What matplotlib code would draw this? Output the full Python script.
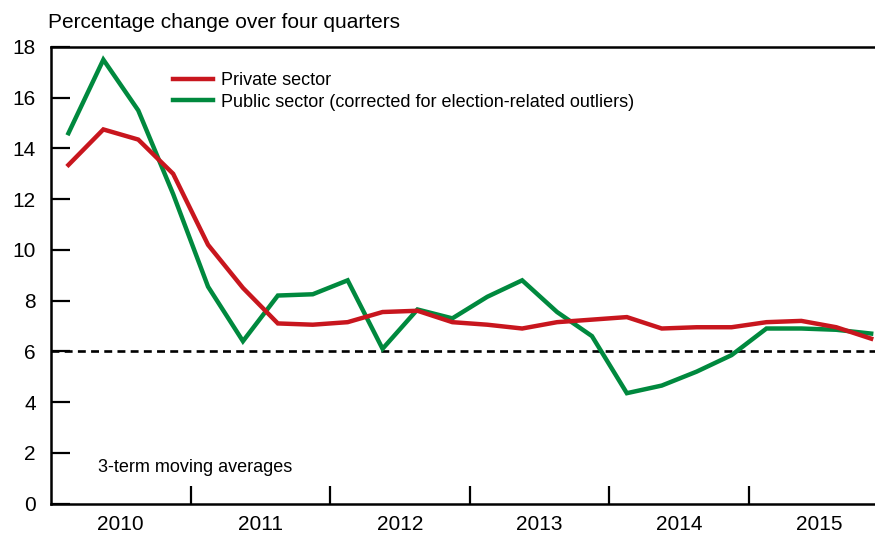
import numpy as np
import matplotlib
matplotlib.use('Agg')
import matplotlib.pyplot as plt

# quarterly data, 2010Q1 - 2015Q4 (3-term moving averages)
years = ["2010", "2011", "2012", "2013", "2014", "2015"]
private = [13.35, 14.75, 14.35, 13.0, 10.2, 8.5, 7.1, 7.05, 7.15, 7.55, 7.6, 7.15,
           7.05, 6.9, 7.15, 7.25, 7.35, 6.9, 6.95, 6.95, 7.15, 7.2, 6.95, 6.5]
public = [14.6, 17.5, 15.5, 12.2, 8.55, 6.4, 8.2, 8.25, 8.8, 6.1, 7.65, 7.3,
          8.15, 8.8, 7.55, 6.6, 4.35, 4.65, 5.2, 5.85, 6.9, 6.9, 6.85, 6.7]
ref_level = 6

RED = '#c8161e'
GREEN = '#00893e'

plt.rcParams.update({
    'font.family': ['Liberation Sans', 'DejaVu Sans'],
    'font.size': 15,
})

fig = plt.figure(figsize=(8.75, 5.36), dpi=100)
ax = fig.add_axes([51 / 875, 32.5 / 536, 824 / 875, 456.5 / 536])

x = np.arange(len(private)) + 0.5
ax.axhline(ref_level, color='black', lw=1.9, ls=(0, (3.0, 2.0)), zorder=1)
ax.plot(x, public, color=GREEN, lw=3.2, solid_joinstyle='miter',
        label='Public sector (corrected for election-related outliers)', zorder=2)
ax.plot(x, private, color=RED, lw=3.2, solid_joinstyle='miter',
        label='Private sector', zorder=3)

ax.set_xlim(0, 23.61)
ax.set_ylim(0, 18)
ax.set_yticks(np.arange(0, 19, 2))

# year boundaries as major ticks, labels centred on minor ticks
ax.set_xticks(np.arange(4, 24, 4))
ax.set_xticklabels([])
ax.set_xticks(np.arange(len(years)) * 4 + 2, minor=True)
ax.set_xticklabels(years, minor=True)
ax.tick_params(axis='x', which='major', direction='in', length=13, width=1.6)
ax.tick_params(axis='x', which='minor', length=0, pad=8)
ax.tick_params(axis='y', direction='in', length=14, width=1.6, pad=11)

ax.spines['right'].set_visible(False)
for s in ['left', 'top', 'bottom']:
    ax.spines[s].set_linewidth(1.8)

handles, labels = ax.get_legend_handles_labels()
ax.legend(handles[::-1], labels[::-1], loc='upper left',
          bbox_to_anchor=((173 - 51) / 824, (503.5 - 72) / 456.5),
          frameon=False, borderpad=0, borderaxespad=0, handlelength=2.2,
          handletextpad=0.45, labelspacing=0.25, fontsize=13)

ax.text((98 - 51) / 824, (503.5 - 467) / 456.5, '3-term moving averages',
        transform=ax.transAxes, fontsize=13, va='center', ha='left')
fig.text(48 / 875, 1 - 22 / 536, 'Percentage change over four quarters',
         fontsize=15, va='center', ha='left')

fig.savefig('out.png', dpi=100)
